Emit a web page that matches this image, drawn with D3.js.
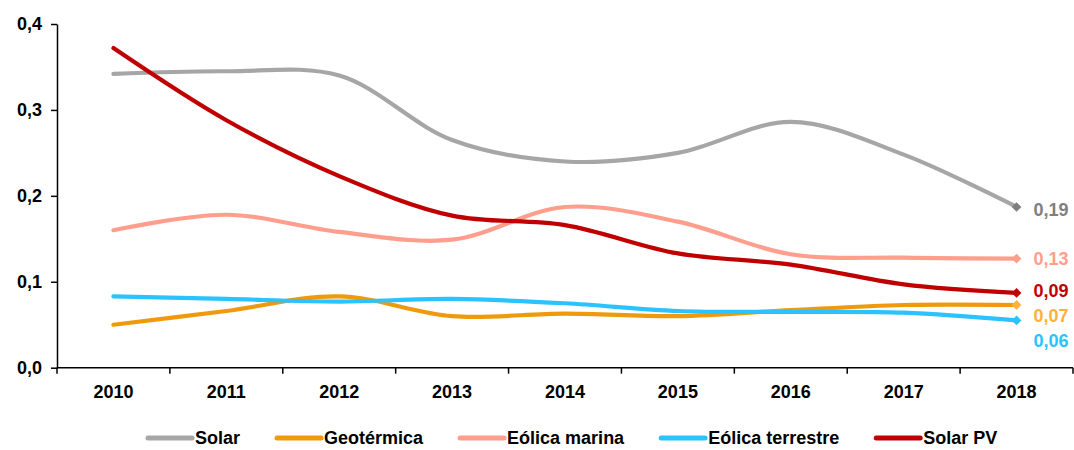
<!DOCTYPE html>
<html>
<head>
<meta charset="utf-8">
<script src="https://cdn.jsdelivr.net/npm/d3@7"></script>
<style>
  html, body { margin: 0; padding: 0; background: #fff; }
  svg { display: block; font-family: "Liberation Sans", Arial, sans-serif; font-weight: bold; }
</style>
</head>
<body>
<svg id="chart" width="1074" height="450"></svg>
<script>
// Years on the category axis
const years = ["2010", "2011", "2012", "2013", "2014", "2015", "2016", "2017", "2018"];

// Series values (USD/kWh)
const solar            = [0.342, 0.345, 0.340, 0.265, 0.240, 0.250, 0.286, 0.248, 0.187];
const geotermica       = [0.050, 0.066, 0.083, 0.060, 0.063, 0.060, 0.067, 0.073, 0.073];
const eolicaMarina     = [0.160, 0.178, 0.158, 0.149, 0.187, 0.170, 0.132, 0.128, 0.127];
const eolicaTerrestre  = [0.083, 0.080, 0.077, 0.080, 0.075, 0.066, 0.065, 0.064, 0.055];
const solarPV          = [0.372, 0.288, 0.223, 0.177, 0.166, 0.133, 0.120, 0.097, 0.087];

// Series names, in legend order
const seriesNames = ["Solar", "Geotérmica", "Eólica marina", "Eólica terrestre", "Solar PV"];

// Value-axis tick labels
const yTicks = [0, 0.1, 0.2, 0.3, 0.4];
const yTickLabels = ["0,0", "0,1", "0,2", "0,3", "0,4"];

// Labels shown next to the final (2018) points
const endLabels = ["0,19", "0,07", "0,13", "0,06", "0,09"];

const series = [
  { name: seriesNames[0], values: solar,           line: "#A6A6A6", marker: "#7F7F7F", label: "#7F7F7F", dy: 2 },
  { name: seriesNames[1], values: geotermica,      line: "#EE9A0C", marker: "#FFB13B", label: "#FFB13B", dy: 11 },
  { name: seriesNames[2], values: eolicaMarina,    line: "#FF9E8C", marker: "#FF9E8C", label: "#FF9E8C", dy: 0 },
  { name: seriesNames[3], values: eolicaTerrestre, line: "#2BC3FF", marker: "#2BC3FF", label: "#2BC3FF", dy: 20 },
  { name: seriesNames[4], values: solarPV,         line: "#C00000", marker: "#C00000", label: "#C00000", dy: -2 }
];
series.forEach((s, i) => { s.endLabel = endLabels[i]; });

const svg = d3.select("#chart");
const margin = { left: 57, right: 1, top: 24, bottom: 82 };
const W = 1074, H = 450;

const x = d3.scaleBand()
  .domain(years)
  .range([margin.left, W - margin.right])
  .paddingInner(0).paddingOuter(0);

const y = d3.scaleLinear()
  .domain([0, 0.4])
  .range([H - margin.bottom - 0.3, margin.top]);

const cx = d => x(d) + x.bandwidth() / 2;

// Y axis
const yAxis = d3.axisLeft(y)
  .tickValues(yTicks)
  .tickFormat((d, i) => yTickLabels[i])
  .tickSizeOuter(0)
  .tickSizeInner(6)
  .tickPadding(9);
const gy = svg.append("g")
  .attr("transform", `translate(${margin.left},0)`)
  .call(yAxis);
gy.select(".domain").attr("stroke", "#000").attr("stroke-width", 1.5);
gy.selectAll(".tick line").attr("stroke", "#000").attr("stroke-width", 1.5);
gy.selectAll(".tick text")
  .attr("fill", "#000")
  .style("font-size", "18px")
  .style("font-weight", "bold")
  .style("font-family", "'Liberation Sans', Arial, sans-serif");

// X axis: tick marks sit on band boundaries, labels at band centres
const xAxisY = y(0);
svg.append("line")
  .attr("x1", margin.left).attr("x2", W - margin.right)
  .attr("y1", xAxisY).attr("y2", xAxisY)
  .attr("stroke", "#000").attr("stroke-width", 1.5);
const boundaries = years.map(d => x(d)).concat([x(years[years.length - 1]) + x.bandwidth()]);
svg.append("g").selectAll("line")
  .data(boundaries)
  .join("line")
  .attr("x1", d => d).attr("x2", d => d)
  .attr("y1", xAxisY).attr("y2", xAxisY + 6)
  .attr("stroke", "#000").attr("stroke-width", 1.5);
svg.append("g").selectAll("text")
  .data(years)
  .join("text")
  .attr("x", d => cx(d))
  .attr("y", xAxisY + 30)
  .attr("text-anchor", "middle")
  .style("font-size", "18px")
  .attr("fill", "#000")
  .text(d => d);

// Smoothed series lines
const line = d3.line()
  .x((d, i) => cx(years[i]))
  .y(d => y(d))
  .curve(d3.curveCatmullRom.alpha(0.5));

const gLines = svg.append("g");
series.forEach(s => {
  gLines.append("path")
    .attr("d", line(s.values))
    .attr("fill", "none")
    .attr("stroke", s.line)
    .attr("stroke-width", 4.2)
    .attr("stroke-linecap", "round")
    .attr("stroke-linejoin", "round");
});

// Diamond markers and value labels on the last year
const lastYear = years[years.length - 1];
const diamond = d3.symbol().type(d3.symbolDiamond2).size(60);
series.forEach(s => {
  const v = s.values[s.values.length - 1];
  svg.append("path")
    .attr("d", diamond())
    .attr("transform", `translate(${cx(lastYear)},${y(v)})`)
    .attr("fill", s.marker);
  svg.append("text")
    .attr("x", cx(lastYear) + 17)
    .attr("y", y(v) + s.dy)
    .attr("dy", "0.36em")
    .style("font-size", "18px")
    .attr("fill", s.label)
    .text(s.endLabel);
});

// Legend
const legend = svg.append("g");
const legendY = 438;
let lx = 148;
series.forEach(s => {
  legend.append("line")
    .attr("x1", lx).attr("x2", lx + 44)
    .attr("y1", legendY).attr("y2", legendY)
    .attr("stroke", s.line).attr("stroke-width", 5)
    .attr("stroke-linecap", "round");
  const t = legend.append("text")
    .attr("x", lx + 47)
    .attr("y", legendY)
    .attr("dy", "0.36em")
    .style("font-size", "18px")
    .attr("fill", "#000")
    .text(s.name);
  lx += 47 + t.node().getComputedTextLength() + 37;
});
</script>
</body>
</html>
